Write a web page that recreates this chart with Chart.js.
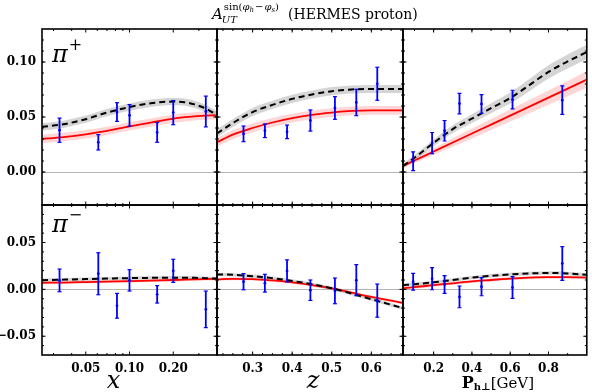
<!DOCTYPE html>
<html lang="en">
<head>
<meta charset="UTF-8">
<title>A_UT sin(phi_h - phi_s) (HERMES proton)</title>
<script src="https://cdn.jsdelivr.net/npm/chart.js"></script>
<style>
  body { margin: 0; background: #fff; }
  #wrap { position: relative; width: 592px; height: 392px; }
  #wrap canvas { position: absolute; left: 0; top: 0; }
</style>
</head>
<body>
<div id="wrap">
  <canvas id="c0" width="592" height="392"></canvas>
  <canvas id="c1" width="592" height="392"></canvas>
  <canvas id="c2" width="592" height="392"></canvas>
  <canvas id="c3" width="592" height="392"></canvas>
  <canvas id="c4" width="592" height="392"></canvas>
  <canvas id="c5" width="592" height="392"></canvas>
</div>
<script>
// ---- axis ranges and ticks ----
const xRange = [0.025, 0.4];
const zRange = [0.21, 0.68];
const pRange = [0.04, 1.0];
const yRangeTop = [-0.03, 0.13];
const yRangeBottom = [-0.07, 0.09];

const xTicks = [0.05, 0.1, 0.2];
const xTickLabels = ['0.05', '0.10', '0.20'];
const zTicks = [0.3, 0.4, 0.5, 0.6];
const zTickLabels = ['0.3', '0.4', '0.5', '0.6'];
const pTicks = [0.2, 0.4, 0.6, 0.8];
const pTickLabels = ['0.2', '0.4', '0.6', '0.8'];
const yTicksTop = [0, 0.05, 0.1];
const yTickLabelsTop = ['0.00', '0.05', '0.10'];
const yTicksBottom = [-0.05, 0, 0.05];
const yTickLabelsBottom = ['\u22120.05', '0.00', '0.05'];

// ---- model curves (red solid, black dashed) ----
const xGrid = [0.025, 0.035, 0.05, 0.07, 0.1, 0.14, 0.2, 0.24, 0.28, 0.33, 0.4];
const xRedPlus = [0.030, 0.0318, 0.0343, 0.0373, 0.0415, 0.0449, 0.0485, 0.0498, 0.0506, 0.0513, 0.0515];
const xBlackPlus = [0.041, 0.0434, 0.048, 0.054, 0.059, 0.0625, 0.064, 0.0635, 0.0615, 0.058, 0.052];
const xRedMinus = [0.007, 0.0073, 0.0078, 0.0083, 0.0088, 0.0094, 0.0100, 0.0104, 0.0107, 0.011, 0.0113];
const xBlackMinus = [0.0098, 0.0104, 0.011, 0.0115, 0.012, 0.0123, 0.0125, 0.0125, 0.0123, 0.012, 0.0115];

const zGrid = [0.21, 0.25, 0.30, 0.35, 0.40, 0.45, 0.50, 0.55, 0.60, 0.68];
const zRedPlus = [0.027, 0.034, 0.040, 0.045, 0.049, 0.052, 0.054, 0.0555, 0.056, 0.056];
const zBlackPlus = [0.035, 0.0445, 0.0545, 0.061, 0.0665, 0.0705, 0.0735, 0.075, 0.0755, 0.0755];
const zRedMinus = [0.0105, 0.0113, 0.0110, 0.0095, 0.0075, 0.0045, 0.0010, -0.0035, -0.0080, -0.0145];
const zBlackMinus = [0.016, 0.0155, 0.014, 0.012, 0.009, 0.0055, 0.0012, -0.0045, -0.0105, -0.020];

const pGrid = [0.04, 0.1, 0.2, 0.3, 0.4, 0.5, 0.6, 0.7, 0.8, 0.9, 1.0];
const pRedPlus = [0.0055, 0.0104, 0.0186, 0.0268, 0.035, 0.0431, 0.0513, 0.0594, 0.0676, 0.0758, 0.084];
const pBlackPlus = [0.0055, 0.013, 0.0265, 0.039, 0.0485, 0.058, 0.0672, 0.079, 0.091, 0.1005, 0.109];
const pRedMinus = [0.001, 0.0025, 0.0045, 0.0065, 0.0085, 0.010, 0.0115, 0.0125, 0.013, 0.013, 0.0125];
const pBlackMinus = [0.0045, 0.0055, 0.0075, 0.010, 0.0125, 0.0145, 0.016, 0.017, 0.0175, 0.017, 0.0155];

// uncertainty band half widths (number = same everywhere)
const xBandRedPlus = 0.0038, xBandBlackPlus = 0.0033;
const zBandRedPlus = 0.004, zBandBlackPlus = 0.0037;
const pBandRedPlus = [0.002, 0.0025, 0.003, 0.0038, 0.0045, 0.005, 0.0055, 0.006, 0.0065, 0.007, 0.0075];
const pBandBlackPlus = [0.002, 0.0025, 0.003, 0.0035, 0.004, 0.0045, 0.005, 0.0055, 0.006, 0.0063, 0.0066];
const bandRedMinus = 0.0016, bandBlackMinus = 0.0018;

// ---- HERMES data points ----
const xPts = [0.033, 0.061, 0.082, 0.100, 0.155, 0.200, 0.335];
const zPts = [0.277, 0.331, 0.387, 0.446, 0.508, 0.562, 0.615];
const pPts = [0.093, 0.192, 0.257, 0.335, 0.450, 0.612, 0.872];

const xPlusVal = [0.038, 0.027, 0.0545, 0.0515, 0.036, 0.054, 0.055];
const xPlusErr = [0.011, 0.007, 0.0085, 0.0098, 0.009, 0.011, 0.014];
const zPlusVal = [0.0347, 0.0375, 0.0365, 0.0468, 0.0582, 0.0632, 0.0802];
const zPlusErr = [0.0071, 0.0062, 0.0062, 0.0096, 0.0103, 0.012, 0.015];
const pPlusVal = [0.0098, 0.0263, 0.0375, 0.0622, 0.0618, 0.0658, 0.0653];
const pPlusErr = [0.0085, 0.0096, 0.0093, 0.0093, 0.0085, 0.0085, 0.013];

const xMinusVal = [0.0096, 0.0167, -0.0175, 0.0096, -0.0053, 0.0198, -0.0213];
const xMinusErr = [0.0121, 0.0224, 0.0132, 0.0114, 0.0093, 0.0123, 0.0195];
const zMinusVal = [0.0082, 0.0066, 0.0197, -0.0009, -0.0016, 0.0098, -0.012];
const zMinusErr = [0.0086, 0.0095, 0.0118, 0.0109, 0.0137, 0.0166, 0.0177];
const pMinusVal = [0.0082, 0.0114, 0.0052, -0.008, 0.0029, 0.002, 0.0277];
const pMinusErr = [0.0089, 0.0118, 0.0095, 0.0116, 0.0097, 0.0116, 0.018];

// ---- layout ----
const COLS = [42, 217, 403, 589];
const ROWS = [29, 205, 355];
const SERIF = '"DejaVu Serif", serif';

Chart.defaults.font.family = SERIF;
Chart.defaults.color = '#000';

function hw(b, i) { return Array.isArray(b) ? b[i] : b; }

function stepValues(a, b, step) {
  const out = [];
  for (let v = a; v <= b + 1e-9; v += step) out.push(+v.toFixed(4));
  return out;
}

function drawRuns(ctx, x, y, runs) {
  runs.forEach(r => {
    ctx.font = r.font;
    ctx.fillText(r.t, x, y + (r.dy || 0));
    x += ctx.measureText(r.t).width + (r.gap || 0);
  });
  return x;
}
function runsWidth(ctx, runs) {
  let w = 0;
  runs.forEach(r => { ctx.font = r.font; w += ctx.measureText(r.t).width + (r.gap || 0); });
  return w;
}

// frame, inward ticks and text labels
const decor = {
  id: 'decor',
  afterDraw(chart, args, o) {
    const { ctx, chartArea: a, scales } = chart;
    ctx.save();
    ctx.strokeStyle = '#000';
    ctx.lineWidth = 1;
    const seg = (x1, y1, x2, y2) => { ctx.beginPath(); ctx.moveTo(x1, y1); ctx.lineTo(x2, y2); ctx.stroke(); };
    const xTick = (v, len) => {
      const p = scales.x.getPixelForValue(v);
      if (p <= a.left + 1 || p >= a.right - 1) return;
      seg(p, a.bottom, p, a.bottom - len); seg(p, a.top, p, a.top + len);
    };
    const yTick = (v, len) => {
      const p = scales.y.getPixelForValue(v);
      if (p <= a.top + 1 || p >= a.bottom - 1) return;
      seg(a.left, p, a.left + len, p); seg(a.right, p, a.right - len, p);
    };
    o.xMinor.forEach(v => xTick(v, 2));
    o.xMajor.forEach(v => xTick(v, 3.5));
    o.yMinor.forEach(v => yTick(v, 2));
    o.yMajor.forEach(v => yTick(v, 3.5));
    ctx.lineWidth = 1.6;
    ctx.strokeRect(a.left, a.top, a.right - a.left, a.bottom - a.top);

    ctx.fillStyle = '#000';
    ctx.textBaseline = 'alphabetic';
    ctx.textAlign = 'left';
    if (o.pi) {
      const base = a.top + o.piDy;
      const x2 = drawRuns(ctx, a.left + 10, base, [{ t: '\u03c0', font: 'italic 24px ' + SERIF }]);
      drawRuns(ctx, x2 + 1, base - 12, [{ t: o.pi, font: '16px ' + SERIF }]);
    }
    if (o.axisTitle) {
      const w = runsWidth(ctx, o.axisTitle);
      const cx = (a.left + a.right) / 2 + o.titleDx;
      drawRuns(ctx, cx - w / 2, a.bottom + 33, o.axisTitle);
    }
    if (o.mainTitle) {
      const xa = drawRuns(ctx, 212, 19, [{ t: 'A', font: 'italic 15px ' + SERIF }]);
      drawRuns(ctx, xa + 1, 10, [
        { t: 'sin(', font: '10px ' + SERIF },
        { t: '\u03c6', font: 'italic 10px ' + SERIF },
        { t: 'h', font: 'italic 7px ' + SERIF, dy: 2, gap: 1 },
        { t: '\u2212', font: '10px ' + SERIF, gap: 1 },
        { t: '\u03c6', font: 'italic 10px ' + SERIF },
        { t: 's', font: 'italic 7px ' + SERIF, dy: 2 },
        { t: ')', font: '10px ' + SERIF }
      ]);
      drawRuns(ctx, xa - 1, 23, [{ t: 'UT', font: 'italic 10px ' + SERIF }]);
      drawRuns(ctx, 288, 19, [{ t: '(HERMES proton)', font: '14px ' + SERIF }]);
    }
    ctx.restore();
  }
};

function makePanel(p) {
  const ds = [];
  const band = (curve, b, color) => {
    ds.push({ data: p.grid.map((x, i) => ({ x, y: curve[i] + hw(b, i) })), fill: '+1', backgroundColor: color,
      borderColor: 'rgba(0,0,0,0)', borderWidth: 0, pointRadius: 0, cubicInterpolationMode: 'monotone', order: 3 });
    ds.push({ data: p.grid.map((x, i) => ({ x, y: curve[i] - hw(b, i) })), fill: false,
      borderColor: 'rgba(0,0,0,0)', borderWidth: 0, pointRadius: 0, cubicInterpolationMode: 'monotone', order: 3 });
  };
  band(p.black, p.blackBand, 'rgba(150,150,150,0.4)');
  band(p.red, p.redBand, 'rgba(255,90,90,0.25)');
  ds.push({ data: p.grid.map((x, i) => ({ x, y: p.red[i] })), borderColor: '#ff0000', borderWidth: 1.8,
    pointRadius: 0, fill: false, cubicInterpolationMode: 'monotone', order: 2 });
  ds.push({ data: p.grid.map((x, i) => ({ x, y: p.black[i] })), borderColor: '#000', borderWidth: 2,
    borderDash: [6, 4], pointRadius: 0, fill: false, cubicInterpolationMode: 'monotone', order: 1 });
  p.pts.forEach((x, i) => {
    ds.push({ data: [{ x, y: p.val[i] - p.err[i] }, { x, y: p.val[i] + p.err[i] }], borderColor: '#0000ff',
      borderWidth: 1.8, tension: 0, fill: false, pointStyle: 'line', pointRadius: 2, pointBorderWidth: 1.2,
      pointBorderColor: '#0000ff', order: 0 });
  });
  ds.push({ data: p.pts.map((x, i) => ({ x, y: p.val[i] })), showLine: false, pointRadius: 1.4,
    pointBackgroundColor: '#0000ff', pointBorderColor: '#0000ff', pointBorderWidth: 0, order: 0 });

  const top = p.row === 0;
  const left = p.col === 0;
  // axis boxes carry the tick labels; the rest of the margin is layout padding
  const yBox = left ? COLS[0] : 0;
  const xBox = top ? 0 : 392 - ROWS[2];
  new Chart(document.getElementById(p.id), {
    type: 'line',
    data: { datasets: ds },
    plugins: [decor],
    options: {
      responsive: false,
      animation: false,
      events: [],
      layout: { padding: { left: COLS[p.col] - yBox, right: 592 - COLS[p.col + 1], top: ROWS[p.row], bottom: 392 - ROWS[p.row + 1] - xBox } },
      plugins: {
        legend: { display: false },
        tooltip: { enabled: false },
        decor: {
          xMajor: p.xTicks, xMinor: p.xMinor,
          yMajor: top ? yTicksTop : yTicksBottom, yMinor: top ? stepValues(-0.03, 0.13, 0.01) : stepValues(-0.07, 0.09, 0.01),
          pi: left ? (top ? '+' : '\u2212') : null, piDy: top ? 33 : 27,
          axisTitle: top ? null : p.axisTitle, titleDx: p.titleDx,
          mainTitle: p.id === 'c0'
        }
      },
      scales: {
        x: {
          type: p.scaleType, min: p.range[0], max: p.range[1],
          afterBuildTicks: s => { s.ticks = p.xTicks.map(v => ({ value: v })); },
          afterFit: s => { s.height = xBox; },
          grid: { display: false, drawTicks: false },
          border: { display: false },
          ticks: { display: !top, autoSkip: false, maxRotation: 0, padding: 7,
            font: { size: 12, weight: 'bold' }, callback: (v, i) => p.xLabels[i] }
        },
        y: {
          min: top ? yRangeTop[0] : yRangeBottom[0], max: top ? yRangeTop[1] : yRangeBottom[1],
          afterBuildTicks: s => { s.ticks = (top ? yTicksTop : yTicksBottom).map(v => ({ value: v })); },
          afterFit: s => { s.width = yBox; },
          grid: { drawTicks: false, lineWidth: 1, color: c => (c.tick && c.tick.value === 0 ? '#b4b4b4' : 'rgba(0,0,0,0)') },
          border: { display: false },
          ticks: { display: left, padding: 6, font: { size: 12, weight: 'bold' },
            callback: (v, i) => (top ? yTickLabelsTop : yTickLabelsBottom)[i] }
        }
      }
    }
  });
}

const xMinorTicks = [0.03, 0.04, 0.06, 0.07, 0.08, 0.09, 0.3, 0.4];
const zMinorTicks = stepValues(0.225, 0.675, 0.025);
const pMinorTicks = stepValues(0.1, 0.9, 0.1);
const xTitle = [{ t: 'x', font: 'italic 24px ' + SERIF }];
const zTitle = [{ t: 'z', font: 'italic 24px ' + SERIF }];
const pTitle = [
  { t: 'P', font: 'bold 16px ' + SERIF },
  { t: 'h\u22a5', font: 'bold 10px ' + SERIF, dy: 2 },
  { t: '[GeV]', font: '15px ' + SERIF }
];

const colX = { scaleType: 'logarithmic', range: xRange, grid: xGrid, pts: xPts, xTicks: xTicks, xLabels: xTickLabels, xMinor: xMinorTicks, axisTitle: xTitle, titleDx: -16 };
const colZ = { scaleType: 'linear', range: zRange, grid: zGrid, pts: zPts, xTicks: zTicks, xLabels: zTickLabels, xMinor: zMinorTicks, axisTitle: zTitle, titleDx: 3 };
const colP = { scaleType: 'linear', range: pRange, grid: pGrid, pts: pPts, xTicks: pTicks, xLabels: pTickLabels, xMinor: pMinorTicks, axisTitle: pTitle, titleDx: 3 };

makePanel(Object.assign({ id: 'c0', col: 0, row: 0, red: xRedPlus, black: xBlackPlus, redBand: xBandRedPlus, blackBand: xBandBlackPlus, val: xPlusVal, err: xPlusErr }, colX));
makePanel(Object.assign({ id: 'c1', col: 1, row: 0, red: zRedPlus, black: zBlackPlus, redBand: zBandRedPlus, blackBand: zBandBlackPlus, val: zPlusVal, err: zPlusErr }, colZ));
makePanel(Object.assign({ id: 'c2', col: 2, row: 0, red: pRedPlus, black: pBlackPlus, redBand: pBandRedPlus, blackBand: pBandBlackPlus, val: pPlusVal, err: pPlusErr }, colP));
makePanel(Object.assign({ id: 'c3', col: 0, row: 1, red: xRedMinus, black: xBlackMinus, redBand: bandRedMinus, blackBand: bandBlackMinus, val: xMinusVal, err: xMinusErr }, colX));
makePanel(Object.assign({ id: 'c4', col: 1, row: 1, red: zRedMinus, black: zBlackMinus, redBand: bandRedMinus, blackBand: bandBlackMinus, val: zMinusVal, err: zMinusErr }, colZ));
makePanel(Object.assign({ id: 'c5', col: 2, row: 1, red: pRedMinus, black: pBlackMinus, redBand: bandRedMinus, blackBand: bandBlackMinus, val: pMinusVal, err: pMinusErr }, colP));
</script>
</body>
</html>
